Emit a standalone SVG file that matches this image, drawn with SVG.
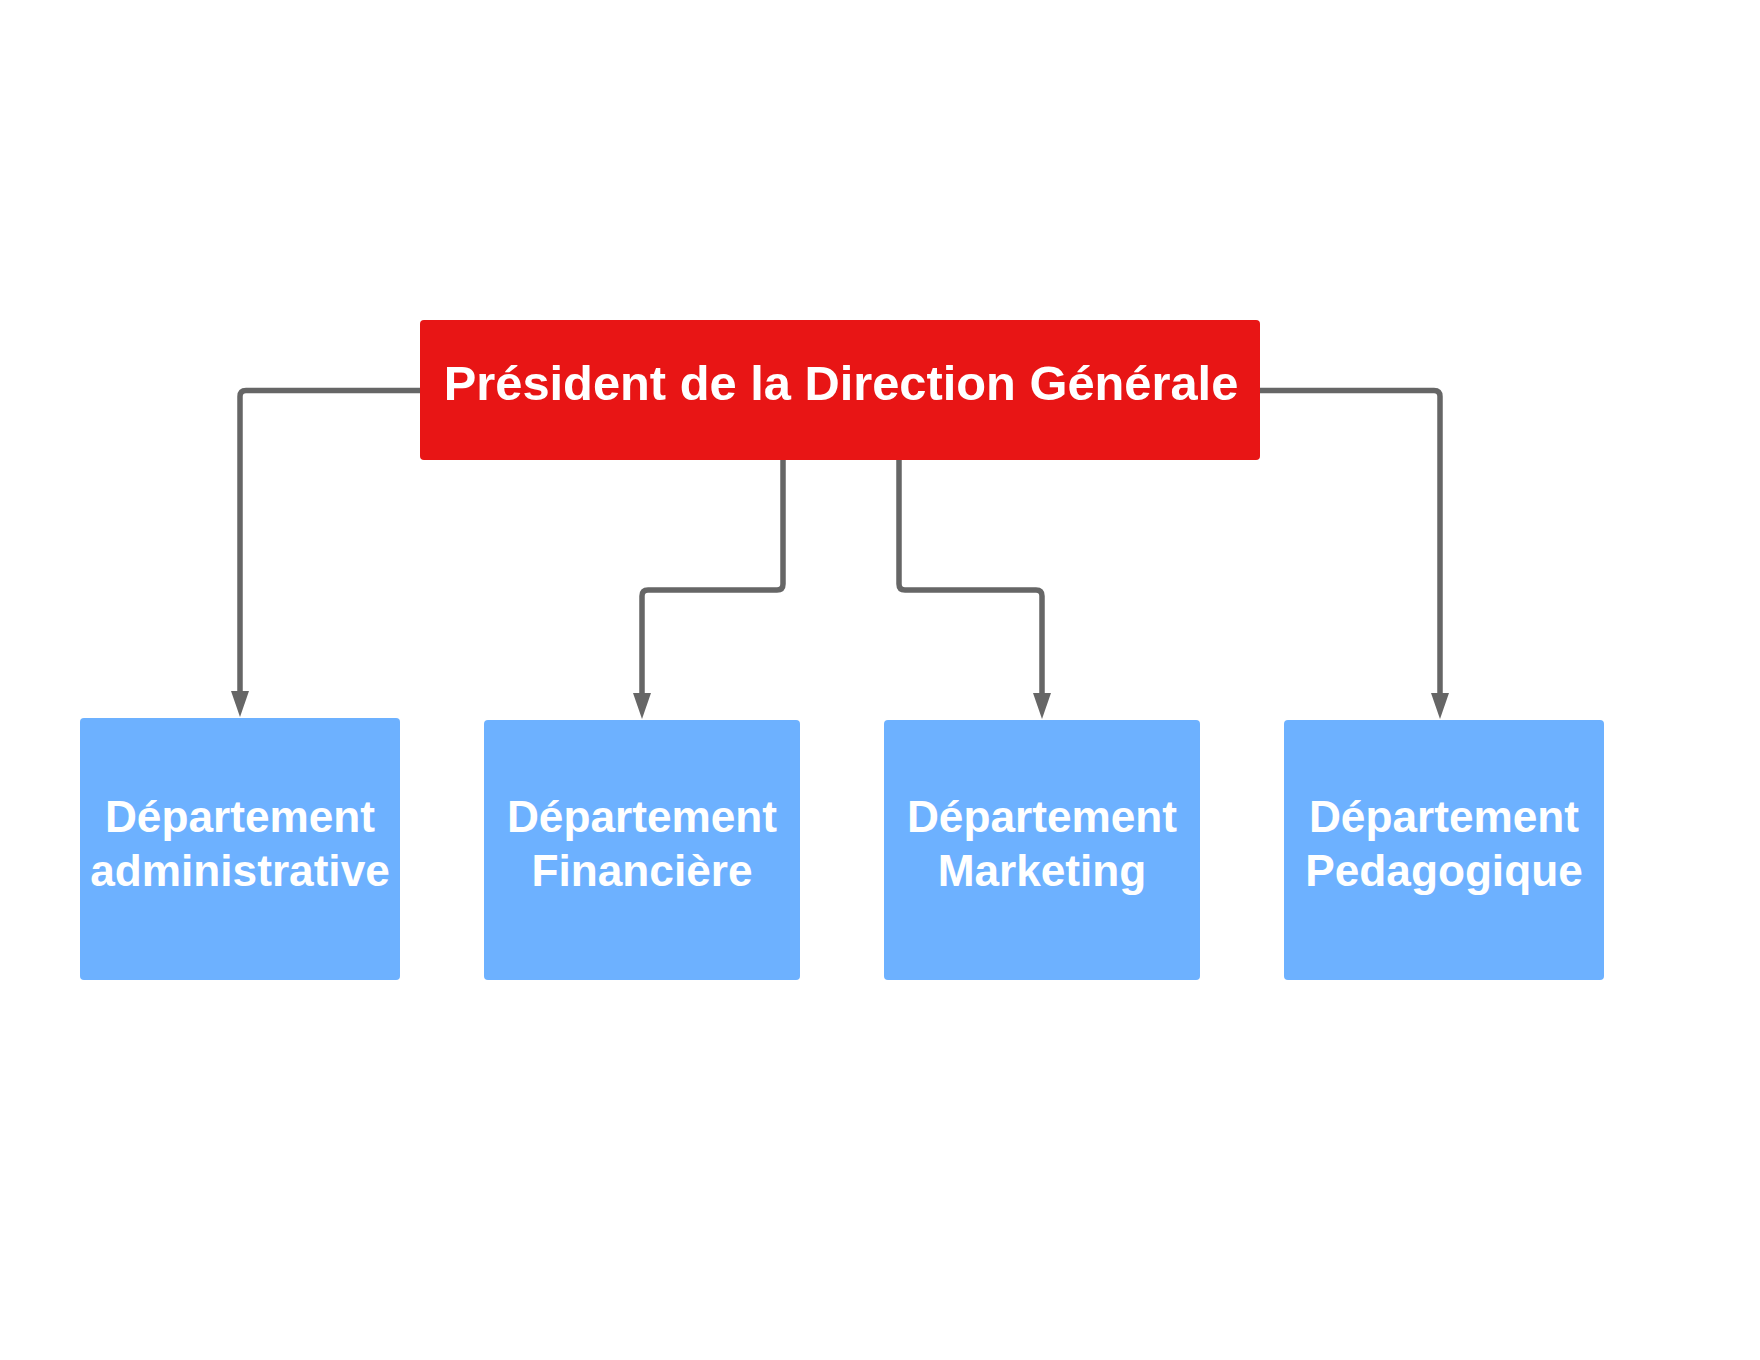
<svg xmlns="http://www.w3.org/2000/svg" width="1760" height="1360" viewBox="0 0 1760 1360">
  <style>
    .conn { fill: none; stroke: #666666; stroke-width: 5.5; stroke-linejoin: round; }
    .top { fill: #E81515; }
    .dept { fill: #6DB1FF; }
    .lbl { fill: #FFFFFF; font-family: "Liberation Sans", Arial, sans-serif; font-weight: bold; text-anchor: middle; }
    .t1 { font-size: 48.8px; }
    .t2 { font-size: 44.2px; }
  </style>
  <defs>
    <marker id="arrow" markerUnits="userSpaceOnUse" markerWidth="28" markerHeight="20" viewBox="0 -10 28 20" refX="0" refY="0" orient="auto">
      <path d="M0,-9 L26,0 L0,9 Z" fill="#666666"/>
    </marker>
  </defs>
  <rect width="1760" height="1360" fill="#FFFFFF"/>
  <g id="connectors">
    <path class="conn" marker-end="url(#arrow)" d="M420,390.5 H246 Q240,390.5 240,396.5 V691"/>
    <path class="conn" marker-end="url(#arrow)" d="M783,460 V584 Q783,590 777,590 H648 Q642,590 642,596 V693"/>
    <path class="conn" marker-end="url(#arrow)" d="M899,460 V584 Q899,590 905,590 H1036 Q1042,590 1042,596 V693"/>
    <path class="conn" marker-end="url(#arrow)" d="M1260,390.5 H1434 Q1440,390.5 1440,396.5 V693"/>
  </g>
  <g id="president">
    <rect class="top" x="420" y="320" width="840" height="140" rx="4"/>
    <text class="lbl t1" x="841" y="400">Président de la Direction Générale</text>
  </g>
  <g id="dept-administrative">
    <rect class="dept" x="80" y="718" width="320" height="262" rx="4"/>
    <text class="lbl t2" x="240" y="832">Département</text>
    <text class="lbl t2" x="240" y="885.5">administrative</text>
  </g>
  <g id="dept-financiere">
    <rect class="dept" x="484" y="720" width="316" height="260" rx="4"/>
    <text class="lbl t2" x="642" y="832">Département</text>
    <text class="lbl t2" x="642" y="885.5">Financière</text>
  </g>
  <g id="dept-marketing">
    <rect class="dept" x="884" y="720" width="316" height="260" rx="4"/>
    <text class="lbl t2" x="1042" y="832">Département</text>
    <text class="lbl t2" x="1042" y="885.5">Marketing</text>
  </g>
  <g id="dept-pedagogique">
    <rect class="dept" x="1284" y="720" width="320" height="260" rx="4"/>
    <text class="lbl t2" x="1444" y="832">Département</text>
    <text class="lbl t2" x="1444" y="885.5">Pedagogique</text>
  </g>
</svg>
